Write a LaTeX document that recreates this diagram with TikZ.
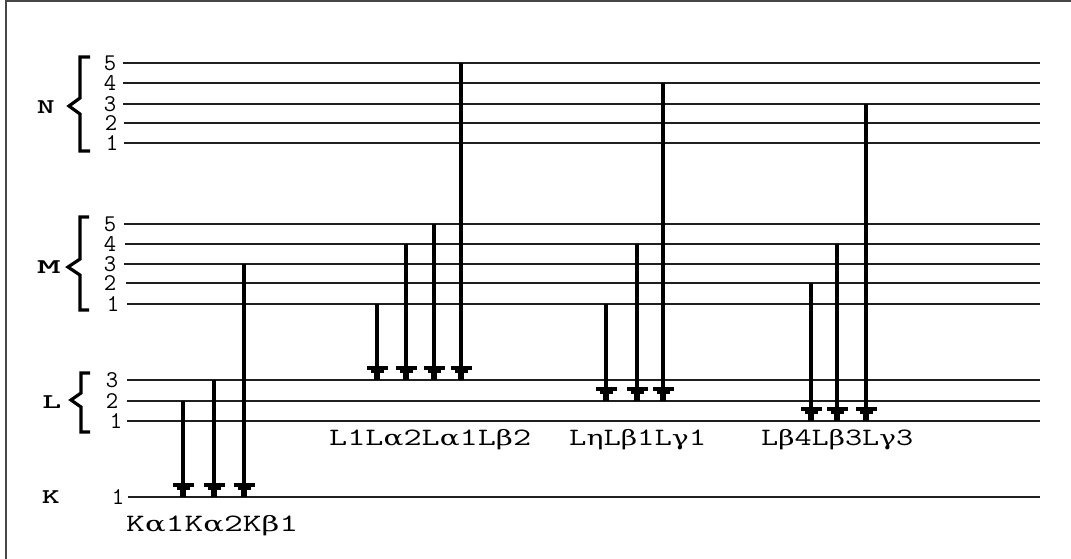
\documentclass[tikz,border=0pt]{standalone}
\usepackage{fontspec}
\usetikzlibrary{calc}

% typewriter face for all texts; upright Greek letters from DejaVu Serif
\newfontfamily\grkfont{DejaVu Serif}
\newcommand{\ttsize}[1]{\ttfamily\fontsize{#1}{#1}\selectfont}
\newcommand{\stretchto}[2]{\resizebox{#1}{\height}{#2}}
\newcommand{\gk}[1]{{\grkfont\fontsize{21}{21}\selectfont #1}}

\tikzset{
  frameline/.style={line width=2.4pt, draw=black!72},
  level/.style={line width=1.7pt, draw=black!88},
  lvlnum/.style={font=\ttsize{24}, inner sep=0pt},
  shell/.style={font=\ttsize{21}\bfseries, inner sep=0pt},
  shellbrace/.style={line width=3.2pt, draw=black, line join=miter},
  ray/.style={line width=4pt, draw=black, line cap=butt},
  linelabel/.style={font=\ttsize{25}, inner sep=0pt, anchor=base west},
  anvil/.pic={
    \fill[black] (-10.5,-14) rectangle (10.5,-10);
    \fill[black] (-6.5,-10.2) rectangle (6.5,-6.6);
    \fill[black] (-2.6,-6.8) rectangle (2.6,0);
  }
}

\begin{document}
\begin{tikzpicture}[x=1pt,y=-1pt]
\useasboundingbox (0,0) rectangle (1071,558);
\fill[white] (0,0) rectangle (1071,558);

% outer frame (top and left edges only)
\coordinate (fbl) at (6,560);
\coordinate (ftl) at (6,1.2);
\coordinate (ftr) at (1071,1.2);
\draw[frameline] (fbl) -- (ftl) -- (ftr);

% energy levels: name / y / start x / number x / number
\foreach \nm/\y/\xs/\xn/\num in {
    N5/63/123/110/5, N4/83/123/110/4, N3/104/123/110/3, N2/123/124/111/2, N1/143/124/112/1,
    M5/224/124/110/5, M4/244/125/110/4, M3/264/124/110/3, M2/283/126/110/2, M1/304/127/113/1,
    L3/380/127/112/3, L2/401/127/112/2, L1/421/127/116/1,
    K1/497/128/118/1} {
  \coordinate (lv\nm) at (\xs,\y);
  \coordinate (lv\nm e) at (1040,\y);
  \node[lvlnum] (num\nm) at (\xn,\y) {\num};
  \draw[level] (lv\nm) -- (lv\nm e);
}

% shell names
\node[shell] (shN) at (46,107) {\stretchto{18pt}{N}};
\node[shell] (shM) at (49,267) {\stretchto{24pt}{M}};
\node[shell] (shL) at (52,402) {\stretchto{19pt}{L}};
\node[shell] (shK) at (51,497) {\stretchto{18pt}{K}};

% braces grouping the subshells
\draw[shellbrace] (90,57) -- (80,57) -- (80,98) -- (69,106) -- (80,114) -- (80,151) -- (90,151);
\draw[shellbrace] (89,217) -- (80,217) -- (80,259) -- (68,267) -- (80,275) -- (80,310) -- (89,310);
\draw[shellbrace] (90,373) -- (81,373) -- (81,393) -- (71,400) -- (81,407) -- (81,432) -- (90,432);

% transitions: name / x / from level / to level
\foreach \nm/\x/\s/\t in {
    ka1/183/L2/K1, ka2/214/L3/K1, kb1/244/M3/K1,
    l1/377/M1/L3, la2/406/M4/L3, la1/434/M5/L3, lb2/461/N5/L3,
    leta/606/M1/L2, lb1/637/M4/L2, lg1/663/N4/L2,
    lb4/811/M2/L1, lb3/837/M4/L1, lg3/866/N3/L1} {
  \coordinate (\nm top) at (\x,0 |- lv\s);
  \coordinate (\nm end) at (\x,0 |- lv\t);
  \draw[ray] (\nm top) -- (\nm end);
  \pic at (\nm end) {anvil};
}

% line names
\node[linelabel] (labK) at (126,531) {\stretchto{172pt}{K\gk{α}1K\gk{α}2K\gk{β}1}};
\node[linelabel] (labLa) at (329,445) {\stretchto{202pt}{L1L\gk{α}2L\gk{α}1L\gk{β}2}};
\node[linelabel] (labLb) at (569,445) {\stretchto{137pt}{L\gk{η}L\gk{β}1L\gk{γ}1}};
\node[linelabel] (labLc) at (761,445) {\stretchto{152pt}{L\gk{β}4L\gk{β}3L\gk{γ}3}};
\end{tikzpicture}
\end{document}
